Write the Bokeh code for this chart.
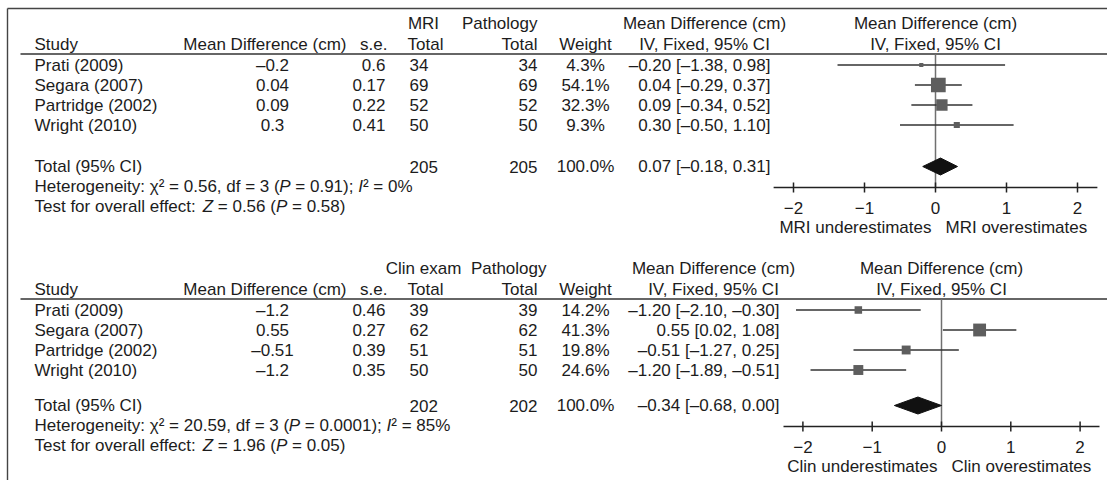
import math
from bokeh.plotting import figure
from bokeh.models import Range1d, ColumnDataSource
from bokeh.embed import file_html
from bokeh.resources import INLINE
from bokeh.core.properties import value

# ---------------- data ----------------
studies = ["Prati (2009)", "Segara (2007)", "Partridge (2002)", "Wright (2010)"]

mri_md = [-0.2, 0.04, 0.09, 0.3]
mri_se = [0.6, 0.17, 0.22, 0.41]
mri_n = [34, 69, 52, 50]
mri_path_n = [34, 69, 52, 50]
mri_weight = [4.3, 54.1, 32.3, 9.3]
mri_ci_lo = [-1.38, -0.29, -0.34, -0.50]
mri_ci_hi = [0.98, 0.37, 0.52, 1.10]
mri_total = [205, 205, 100.0, 0.07, -0.18, 0.31]   # n, path n, weight, md, lo, hi
mri_het = ["0.56", "3", "0.91", "0%"]
mri_test = ["0.56", "0.58"]

clin_md = [-1.2, 0.55, -0.51, -1.2]
clin_se = [0.46, 0.27, 0.39, 0.35]
clin_n = [39, 62, 51, 50]
clin_path_n = [39, 62, 51, 50]
clin_weight = [14.2, 41.3, 19.8, 24.6]
clin_ci_lo = [-2.10, 0.02, -1.27, -1.89]
clin_ci_hi = [-0.30, 1.08, 0.25, -0.51]
clin_total = [202, 202, 100.0, -0.34, -0.68, 0.00]
clin_het = ["20.59", "3", "0.0001", "85%"]
clin_test = ["1.96", "0.05"]

tick_values = [-2, -1, 0, 1, 2]
tick_labels = ["\u22122", "\u22121", "0", "1", "2"]

# ---------------- style ----------------
FONT = "Liberation Sans"
FS = 17
TC = "#1c1c1c"
DASH = "\u2013"

WID = {' ': 278, '(': 333, ')': 333, '%': 889, ',': 278, '.': 278, ':': 278, ';': 278,
       '=': 584, '[': 278, ']': 278, '\u2013': 556, '\u2212': 584, '\u00b2': 333, '\u03c7': 500}
for d in "0123456789":
    WID[d] = 556
WID.update(dict(A=667, B=667, C=722, D=722, E=667, F=611, G=778, H=722, I=278, J=500, K=667,
                L=556, M=833, N=722, O=778, P=667, Q=778, R=722, S=667, T=611, U=722, V=667,
                W=944, X=667, Y=667, Z=611))
WID.update(dict(a=556, b=556, c=500, d=556, e=556, f=278, g=556, h=556, i=222, j=222, k=500,
                l=222, m=833, n=556, o=556, p=556, q=556, r=333, s=500, t=278, u=556, v=500,
                w=722, x=500, y=500, z=500))


def tw(s, fs=FS):
    return sum(WID.get(c, 556) for c in s) / 1000.0 * fs


def num(v):
    s = f"{abs(v):g}"
    return (DASH + s) if v < 0 else s


def f2(v):
    s = f"{abs(v):.2f}"
    return (DASH + s) if v < 0 else s


W_PX, H_PX = 1107, 480
p = figure(width=W_PX, height=H_PX, x_range=Range1d(0, W_PX), y_range=Range1d(H_PX, 0),
           output_backend="svg", toolbar_location=None, min_border=0,
           x_axis_type=None, y_axis_type=None, outline_line_color=None,
           background_fill_color="white", border_fill_color="white")
p.grid.visible = False

# forest scales (value -> px) for the two panels
Z1, U1 = 935.0, 71.0
Z2, U2 = 941.0, 69.3
p.extra_x_ranges = {
    "f1": Range1d((0 - Z1) / U1, (W_PX - Z1) / U1),
    "f2": Range1d((0 - Z2) / U2, (W_PX - Z2) / U2),
}

texts = {"left": [], "right": [], "center": []}


def add(align, x, y, t):
    texts[align].append((x, y, t))


def seg_text(x, y, pieces):
    cx = x
    for t, style in pieces:
        lead = len(t) - len(t.lstrip(" "))
        p.text(x=[cx + tw(" " * lead)], y=[y], text=[t.strip(" ")], text_font=value(FONT),
               text_font_size=f"{FS}px", text_font_style=style, text_align="left",
               text_baseline="middle", text_color=TC)
        cx += tw(t)


# frame lines
p.segment(x0=[7], y0=[8], x1=[W_PX], y1=[8], line_color="#444444", line_width=1.4)
p.segment(x0=[7], y0=[8], x1=[7], y1=[H_PX], line_color="#444444", line_width=1.4)

SP = 20.0


def panel(y0, y1, rname, group, md, se, n1, n2, wt, lo, hi, total, het, test, under, over,
          ci_x, path_x):
    # y0: offset of header/rows block, y1: offset of summary/axis block
    yh1, yh2, yline = y0 + 23, y0 + 44, y0 + 53.5
    rows = [y0 + 64.5 + SP * i for i in range(len(studies))]
    ytot, yhet, ytest = y1 + 166, y1 + 186, y1 + 206
    yaxis, ytick, ylab = y1 + 187, y1 + 207, y1 + 227
    zx = Z1 if rname == "f1" else Z2

    # headers
    add("center", 423, yh1, group)
    add("right", path_x, yh1, "Pathology")
    add("center", ci_x - 66, yh1, "Mean Difference (cm)")
    add("center", zx, yh1, "Mean Difference (cm)")
    add("left", 34, yh2, "Study")
    add("right", 346, yh2, "Mean Difference (cm)")
    add("right", 387, yh2, "s.e.")
    add("center", 425, yh2, "Total")
    add("right", 537, yh2, "Total")
    add("center", 585, yh2, "Weight")
    add("center", ci_x - 66, yh2, "IV, Fixed, 95% CI")
    add("center", zx, yh2, "IV, Fixed, 95% CI")
    p.segment(x0=[20], y0=[yline], x1=[W_PX], y1=[yline], line_color="#333333", line_width=1.5)

    for i, s in enumerate(studies):
        y = rows[i]
        add("left", 34, y, s)
        add("center", 272, y, num(md[i]))
        add("right", 385, y, num(se[i]))
        add("left", 409, y, str(n1[i]))
        add("right", 537, y, str(n2[i]))
        add("center", 585, y, f"{wt[i]:.1f}%")
        add("right", ci_x, y, f"{f2(md[i])} [{f2(lo[i])}, {f2(hi[i])}]")

    n1t, n2t, wtt, mdt, lot, hit = total
    add("left", 34, ytot, "Total (95% CI)")
    add("left", 409, ytot, str(n1t))
    add("right", 537, ytot, str(n2t))
    add("center", 585, ytot, f"{wtt:.1f}%")
    add("right", ci_x, ytot, f"{f2(mdt)} [{f2(lot)}, {f2(hit)}]")

    seg_text(34, yhet, [("Heterogeneity: \u03c7\u00b2 = " + het[0] + ", df = " + het[1] + " (", "normal"),
                        ("P", "italic"), (" = " + het[2] + "); ", "normal"),
                        ("I", "italic"), ("\u00b2 = " + het[3], "normal")])
    seg_text(34, ytest, [("Test for overall effect: ", "normal"), ("Z", "italic"),
                         (" = " + test[0] + " (", "normal"), ("P", "italic"),
                         (" = " + test[1] + ")", "normal")])

    # forest
    p.segment(x0=[0], y0=[yline], x1=[0], y1=[yaxis], x_range_name=rname,
              line_color="#707070", line_width=1.5)
    p.segment(x0=lo, y0=rows, x1=hi, y1=rows, x_range_name=rname,
              line_color="#333333", line_width=1.3)
    sizes = [2.0 * math.sqrt(w) for w in wt]
    p.scatter(x=md, y=rows, size=sizes, marker="square", x_range_name=rname,
              fill_color="#5e5e5e", line_color=None)
    h = 8.5
    p.patch(x=[lot, mdt, hit, mdt], y=[ytot, ytot - h, ytot, ytot + h], x_range_name=rname,
            fill_color="#111111", line_color="#111111")
    # axis
    p.segment(x0=[tick_values[0] - 0.28], y0=[yaxis], x1=[tick_values[-1] + 0.28], y1=[yaxis],
              x_range_name=rname, line_color="#222222", line_width=1.5)
    p.segment(x0=tick_values, y0=[yaxis - 5] * 5, x1=tick_values, y1=[yaxis + 5] * 5,
              x_range_name=rname, line_color="#222222", line_width=1.5)
    p.text(x=tick_values, y=[ytick] * 5, text=tick_labels, x_range_name=rname,
           text_font=value(FONT), text_font_size=f"{FS}px", text_align="center",
           text_baseline="middle", text_color=TC)
    p.text(x=[0], y=[ylab], text=[under], x_range_name=rname, x_offset=-4,
           text_font=value(FONT), text_font_size=f"{FS}px", text_align="right",
           text_baseline="middle", text_color=TC)
    p.text(x=[0], y=[ylab], text=[over], x_range_name=rname, x_offset=10,
           text_font=value(FONT), text_font_size=f"{FS}px", text_align="left",
           text_baseline="middle", text_color=TC)


panel(0, 0, "f1", "MRI", mri_md, mri_se, mri_n, mri_path_n, mri_weight, mri_ci_lo, mri_ci_hi,
      mri_total, mri_het, mri_test, "MRI underestimates", "MRI overestimates", 770, 537)
panel(245, 239, "f2", "Clin exam", clin_md, clin_se, clin_n, clin_path_n, clin_weight, clin_ci_lo,
      clin_ci_hi, clin_total, clin_het, clin_test, "Clin underestimates", "Clin overestimates",
      779, 546)

for align, items in texts.items():
    if not items:
        continue
    src = ColumnDataSource(dict(x=[a[0] for a in items], y=[a[1] for a in items],
                                t=[a[2] for a in items]))
    p.text(x="x", y="y", text="t", source=src, text_font=value(FONT), text_font_size=f"{FS}px",
           text_align=align, text_baseline="middle", text_color=TC)

open("out.html", "w").write(file_html(p, INLINE))
